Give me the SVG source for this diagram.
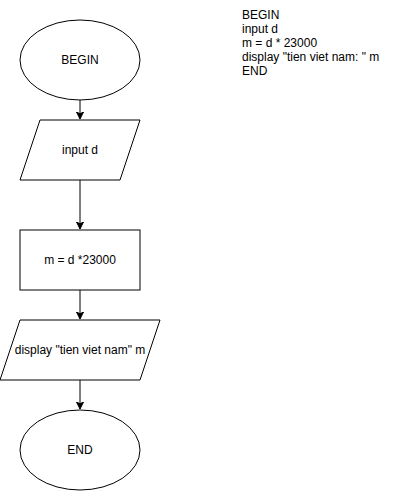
<svg xmlns="http://www.w3.org/2000/svg" width="401" height="491" viewBox="0 0 401 491">
<style>
.s{fill:#fff;stroke:#000;stroke-width:1}
.t{font-family:"Liberation Sans",Arial,sans-serif;font-size:12px;fill:#000}
.c{text-anchor:middle;dominant-baseline:central}
.e{fill:none;stroke:#000;stroke-width:1}
</style>
<defs>
<marker id="a" markerWidth="8" markerHeight="8" refX="7" refY="4" orient="auto" markerUnits="userSpaceOnUse">
<path d="M0,0.5 L7,4 L0,7.5 L1.75,4 Z" fill="#000" stroke="#000" stroke-width="1"/>
</marker>
</defs>
<rect width="401" height="491" fill="#fff"/>
<g id="connectors">
<path class="e" d="M80,100 V119" marker-end="url(#a)"/>
<path class="e" d="M80,180 V229" marker-end="url(#a)"/>
<path class="e" d="M80,290 V319" marker-end="url(#a)"/>
<path class="e" d="M80,380 V409" marker-end="url(#a)"/>
</g>
<g id="begin">
<ellipse class="s" cx="80" cy="60" rx="60" ry="40"/>
<text class="t c" x="80" y="60">BEGIN</text>
</g>
<g id="input">
<polygon class="s" points="40,120 140,120 120,180 20,180"/>
<text class="t c" x="80" y="150">input d</text>
</g>
<g id="calc">
<rect class="s" x="20" y="230" width="120" height="60"/>
<text class="t c" x="80" y="260">m = d *23000</text>
</g>
<g id="display">
<polygon class="s" points="20,320 160,320 140,380 0,380"/>
<text class="t c" x="80" y="350">display "tien viet nam" m</text>
</g>
<g id="end">
<ellipse class="s" cx="80" cy="450" rx="60" ry="40"/>
<text class="t c" x="80" y="450">END</text>
</g>
<g id="pseudocode">
<text class="t" x="242" y="18.5">BEGIN</text>
<text class="t" x="242" y="32.5">input d</text>
<text class="t" x="242" y="47">m = d * 23000</text>
<text class="t" x="242" y="61">display "tien viet nam: " m</text>
<text class="t" x="242" y="75">END</text>
</g>
</svg>
